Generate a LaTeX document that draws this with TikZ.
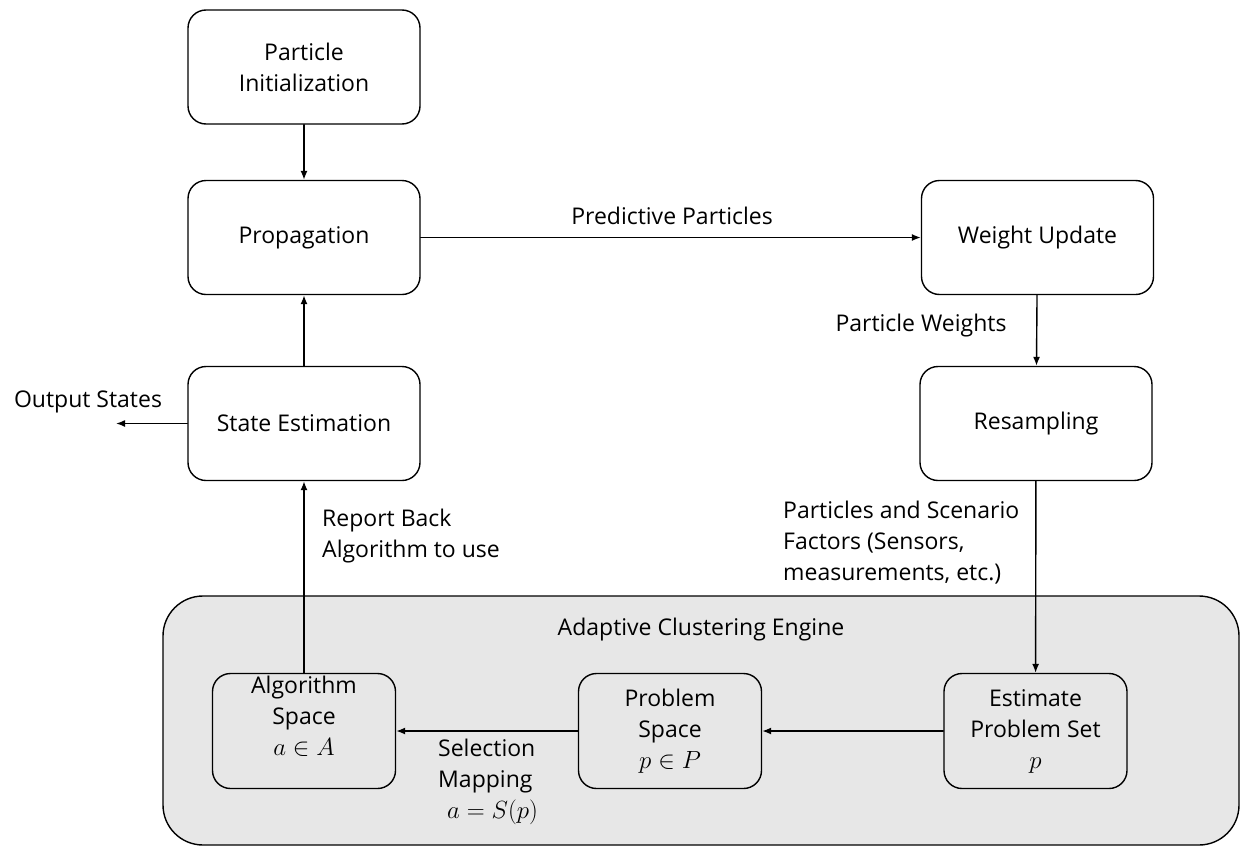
\documentclass[tikz,border=0pt]{standalone}
\usepackage{fontspec}
\setmainfont{Open Sans}
\usetikzlibrary{arrows.meta}
\definecolor{engineFill}{RGB}{231,231,231}

\begin{document}
\begin{tikzpicture}[x=1pt,y=-1pt,line cap=round,line join=round,>={Latex[length=9pt,width=7pt]},
  txt/.style={font=\fontsize{23}{31}\selectfont,inner sep=0pt},
  stagebox/.style={txt,draw,line width=1.4pt,rounded corners=18pt,fill=white,align=center,minimum width=232pt,minimum height=114pt},
  spacebox/.style={stagebox,fill=engineFill,minimum width=183pt,minimum height=115pt},
  flow/.style={line width=1.4pt,->}]
  \useasboundingbox (0,0) rectangle (1242,846);
  % engine container
  \node[draw,line width=1.4pt,rounded corners=40pt,fill=engineFill,minimum width=1076pt,minimum height=249pt] (engine) at (701,720.5) {};
  \node[txt] (engineTitle) at (701,630) {Adaptive Clustering Engine};
  % filter loop
  \node[stagebox] (init) at (304,67) {Particle\\Initialization};
  \node[stagebox] (prop) at (304,237.5) {Propagation};
  \node[stagebox] (state) at (304,423.5) {State Estimation};
  \node[stagebox] (weight) at (1037.5,237.5) {Weight Update};
  \node[stagebox] (resamp) at (1036,423.5) {Resampling};
  % spaces
  \node[spacebox] (algo) at (304,731) {};
  \node[txt,align=center] (algoLbl) at (304,716) {Algorithm\\Space\\\(a \in A\)};
  \node[spacebox] (problem) at (670,731) {Problem\\Space\\\(p \in P\)};
  \node[spacebox] (estimate) at (1035.5,731) {Estimate\\Problem Set\\\(p\)};
  % labels
  \node[txt] (outLbl) at (88,402) {Output States};
  \node[txt] (predLbl) at (672,216) {Predictive Particles};
  \node[txt] (weightsLbl) at (921,326) {Particle Weights};
  \node[txt,align=left,anchor=west] (factorsLbl) at (783,543) {Particles and Scenario\\Factors (Sensors,\\measurements, etc.)};
  \node[txt,align=left,anchor=west] (reportLbl) at (322,536) {Report Back\\Algorithm to use};
  \node[txt,align=left,anchor=west] (selectLbl) at (438,782) {Selection\\Mapping\\\hspace*{9pt}\(a = S(p)\)};
  \coordinate (outEnd) at (116,423.5);
  % connectors
  \draw[flow] (init) -- (prop);
  \draw[flow] (state) -- (prop);
  \draw[flow] (state) -- (outEnd);
  \draw[flow] (prop) -- (weight);
  \draw[flow] (weight) -- (resamp);
  \draw[flow] (resamp) -- (estimate);
  \draw[flow] (estimate) -- (problem);
  \draw[flow] (problem) -- (algo);
  \draw[flow] (algo) -- (state);
\end{tikzpicture}
\end{document}
